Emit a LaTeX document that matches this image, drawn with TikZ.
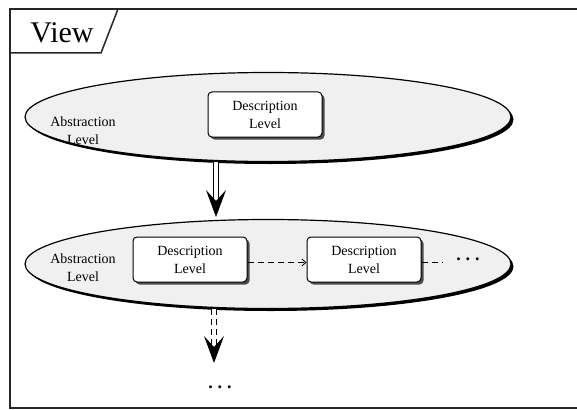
\documentclass[tikz,border=0pt]{standalone}
\usepackage{fontspec}
\setmainfont{Liberation Serif}
\usetikzlibrary{shapes.geometric,shadows,arrows.meta}

\begin{document}
\begin{tikzpicture}[x=1pt,y=-1pt,
  every node/.style={font=\fontsize{14}{18}\selectfont, align=center},
  level/.style={ellipse, draw=black, line width=1.2pt, fill=gray!12,
    minimum width=486pt, minimum height=89pt,
    drop shadow={shadow xshift=2.5pt, shadow yshift=-2.5pt, fill=black, opacity=1}},
  descbox/.style={rectangle, rounded corners=4pt, draw=black, line width=1pt, fill=white,
    minimum width=114pt, minimum height=45pt, inner sep=0pt,
    drop shadow={shadow xshift=2.5pt, shadow yshift=-2.5pt, fill=black!70, opacity=1}},
  bigarrow/.style={double, double distance=4pt, line width=1.2pt,
    -{Stealth[length=27pt, width=20pt, inset=11pt]}},
  flow/.style={dashed, dash pattern=on 6pt off 4pt, line width=0.9pt},
  dots/.style={font=\fontsize{18}{20}\selectfont\bfseries, inner sep=0pt}
]
\useasboundingbox (0,0) rectangle (577,409);
\clip (0,0) rectangle (577,409);

% frame and tab
\draw[line width=1.5pt, black!85] (10,9) rectangle (590,408);
\draw[line width=1.5pt, black!85] (10,53) -- (101,53) -- (118,9);
\node[font=\fontsize{30}{34}\selectfont] (view) at (62,33) {View};

% upper level
\node[level] (abs1) at (268,117) {};
\node (abs1txt) at (83,131) {Abstraction\\Level};
\node[descbox] (desc1) at (265,114.5) {Description\\Level};

% lower level
\node[level] (abs2) at (268,264) {};
\node (abs2txt) at (83,268) {Abstraction\\Level};
\node[descbox] (desc2) at (190,259.5) {Description\\Level};
\node[descbox] (desc3) at (364,259.5) {Description\\Level};
\node[dots] (more) at (468,259) {.\hspace{5pt}.\hspace{5pt}.};
\coordinate (moreend) at (443,262.5);
\node[dots] (deeper) at (220,387) {.\hspace{5pt}.\hspace{5pt}.};

\draw[flow, -{Straight Barb[length=4pt, width=7pt]}] ([yshift=-3pt]desc2.east) -- ([yshift=-3pt]desc3.west);
\draw[flow] ([yshift=-3pt]desc3.east) -- (moreend);

% arrows between levels
\coordinate (tip1) at (216,217);
\coordinate (tip2) at (214,363);
\draw[bigarrow] (tip1 |- abs1.south) -- (tip1);
\draw[bigarrow, dash pattern=on 6pt off 4pt] (tip2 |- abs2.south) -- (tip2);
\end{tikzpicture}
\end{document}
